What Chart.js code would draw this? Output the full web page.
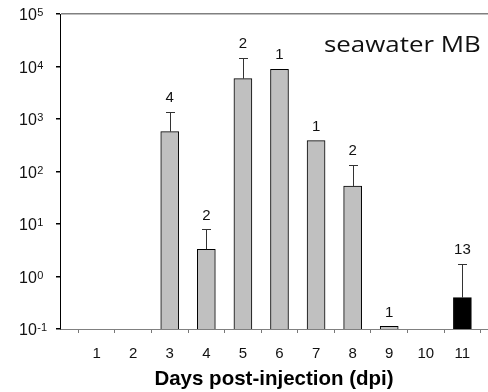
<!DOCTYPE html>
<html>
<head>
<meta charset="utf-8">
<script src="https://cdn.jsdelivr.net/npm/chart.js@4.4.0/dist/chart.umd.min.js"></script>
<style>
  html, body { margin: 0; padding: 0; background: #fff; }
  #wrap { width: 488px; height: 392px; }
</style>
</head>
<body>
<div id="wrap"><canvas id="chart" width="488" height="392"></canvas></div>
<script>
// values (log scale, one bar per day)
const days = [1, 2, 3, 4, 5, 6, 7, 8, 9, 10, 11];
const means = [null, null, 573, 3.3, 5860, 8840, 386, 53, 0.112, null, 0.395];
const errTops = [null, null, 1360, 7.9, 14300, null, null, 131, null, null, 1.73];
const nLabels = ['', '', '4', '2', '2', '1', '1', '2', '1', '', '13'];
const barFills = ['#c0c0c0', '#c0c0c0', '#c0c0c0', '#c0c0c0', '#c0c0c0', '#c0c0c0',
                  '#c0c0c0', '#c0c0c0', '#c0c0c0', '#c0c0c0', '#000000'];
const yExponents = [-1, 0, 1, 2, 3, 4, 5];
const xTitle = 'Days post-injection (dpi)';
const panelLabel = 'seawater MB';

const ARIAL = '"Liberation Sans", Arial, sans-serif';

// error whiskers + n labels + y tick labels with superscripts
const extrasPlugin = {
  id: 'extras',
  afterDatasetsDraw(chart) {
    const ctx = chart.ctx;
    const xs = chart.scales.x;
    const ys = chart.scales.y;
    ctx.save();

    // upper error bars
    ctx.strokeStyle = '#333';
    ctx.lineWidth = 1;
    days.forEach((d, i) => {
      if (errTops[i] == null) return;
      const x = Math.round(xs.getPixelForValue(d)) + 0.5;
      const y0 = ys.getPixelForValue(means[i]);
      const y1 = Math.round(ys.getPixelForValue(errTops[i])) + 0.5;
      ctx.beginPath();
      ctx.moveTo(x, y0);
      ctx.lineTo(x, y1);
      ctx.moveTo(x - 4.5, y1);
      ctx.lineTo(x + 4.5, y1);
      ctx.stroke();
    });

    // n above each bar
    ctx.fillStyle = '#111';
    ctx.font = '15px ' + ARIAL;
    ctx.textAlign = 'center';
    ctx.textBaseline = 'middle';
    days.forEach((d, i) => {
      if (!nLabels[i]) return;
      const top = errTops[i] != null ? errTops[i] : means[i];
      const y = ys.getPixelForValue(top) - 14;
      ctx.fillText(nLabels[i], xs.getPixelForValue(d), y);
    });

    // y tick labels 10^n
    ctx.textAlign = 'left';
    ctx.textBaseline = 'alphabetic';
    yExponents.forEach(e => {
      const y = ys.getPixelForValue(Math.pow(10, e));
      ctx.font = '16px ' + ARIAL;
      ctx.fillText('10', 19, y + 6);
      const w = ctx.measureText('10').width;
      ctx.font = '11px ' + ARIAL;
      ctx.fillText(String(e), 19 + w + 0.5, y + 2);
    });

    // panel label (source text is a slightly stretched face)
    ctx.font = '22.5px "Open Sans", sans-serif';
    ctx.fillStyle = '#111';
    ctx.textBaseline = 'middle';
    ctx.translate(324, 46);
    ctx.scale(1.15, 1);
    ctx.fillText(panelLabel, 0, 0);

    ctx.restore();
  }
};

new Chart(document.getElementById('chart'), {
  type: 'bar',
  data: {
    datasets: [{
      data: days.map((d, i) => ({ x: d, y: means[i] })),
      backgroundColor: barFills,
      borderColor: '#000',
      borderWidth: 1,
      borderSkipped: 'bottom',
      barThickness: 18
    }]
  },
  options: {
    responsive: false,
    animation: false,
    devicePixelRatio: 1,
    layout: { padding: { top: 14, right: 0, left: 0, bottom: 0 } },
    plugins: {
      legend: { display: false },
      tooltip: { enabled: false }
    },
    scales: {
      x: {
        type: 'linear',
        min: 0,
        max: 11.7,
        offset: false,
        afterBuildTicks: s => { s.ticks = days.map(v => ({ value: v })); },
        afterFit: s => { s.height = 63; },
        grid: {
          drawOnChartArea: false,
          drawTicks: true,
          tickLength: 4,
          tickColor: '#777'
        },
        border: { color: '#808080', width: 1 },
        ticks: {
          color: '#111',
          padding: 12,
          font: { family: ARIAL, size: 15 },
          callback: v => String(v)
        },
        title: {
          display: true,
          text: xTitle,
          color: '#000',
          padding: { top: 8, bottom: 0 },
          font: { family: ARIAL, size: 20.5, weight: 'bold' }
        }
      },
      y: {
        type: 'logarithmic',
        min: 0.1,
        max: 100000,
        afterBuildTicks: s => { s.ticks = yExponents.map(e => ({ value: Math.pow(10, e) })); },
        afterFit: s => { s.width = 60; },
        grid: {
          drawOnChartArea: true,
          color: c => (c.tick && c.tick.value === 100000 ? '#808080' : 'rgba(0,0,0,0)'),
          lineWidth: 1.5,
          drawTicks: true,
          tickLength: 4,
          tickColor: '#000'
        },
        border: { color: '#000', width: 1 },
        ticks: { display: false }
      }
    }
  },
  plugins: [extrasPlugin]
});
</script>
</body>
</html>
